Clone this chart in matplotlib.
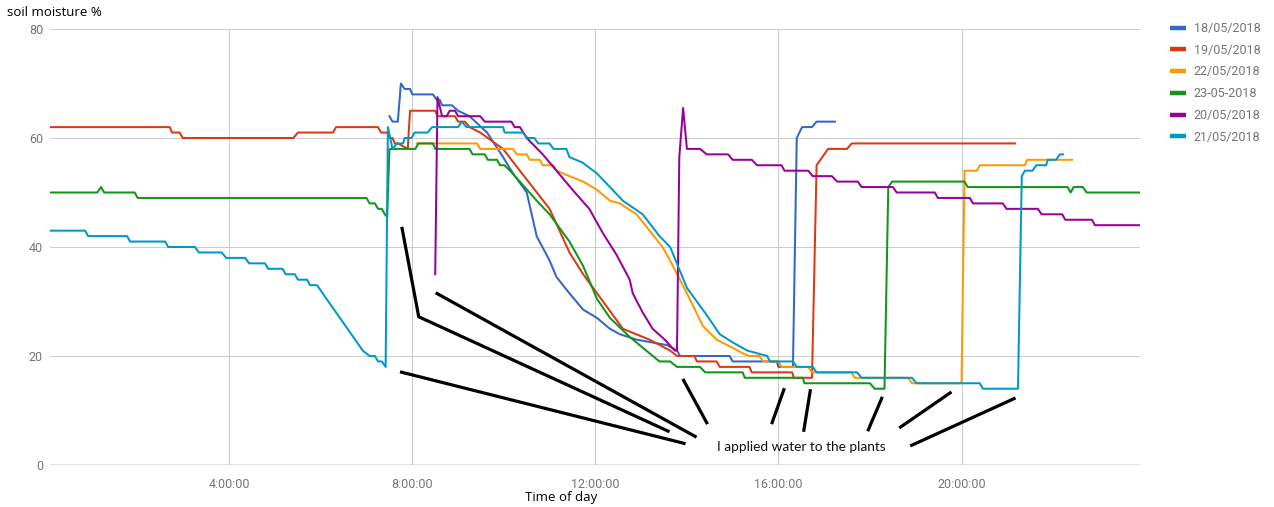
import matplotlib
matplotlib.use("Agg")
import matplotlib.pyplot as plt
from matplotlib.lines import Line2D


def heures(liste):
    # "H:MM" -> heures décimales
    res = []
    for s in liste:
        h, m = s.split(":")
        res.append(int(h) + int(m) / 60)
    return res


# 18/05/2018
t_18 = ["7:30", "7:34", "7:41", "7:45", "7:50", "7:57", "8:00", "8:27", "8:32", "8:36",
        "8:39", "8:52", "9:00", "9:15", "9:38", "9:59", "10:12", "10:30", "10:43", "11:00",
        "11:09", "11:26", "11:44", "12:02", "12:19", "12:32", "12:54", "13:34", "13:47", "13:51",
        "14:56", "15:00", "15:58", "16:00", "16:19", "16:24", "16:31", "16:44", "16:50", "17:14"]
v_18 = [64, 63, 63, 70, 69, 69, 68, 68, 67, 67,
        66, 66, 65, 64, 61, 56.5, 53.5, 50, 42, 37.5,
        34.5, 31.5, 28.5, 27, 25, 24, 23, 22, 21, 20,
        20, 19, 19, 18, 18, 60, 62, 62, 63, 63]

# 19/05/2018
t_19 = ["0:05", "2:42", "2:45", "2:55", "2:59", "5:24", "5:30", "6:16", "6:20", "7:15",
        "7:19", "7:27", "7:30", "7:34", "7:37", "7:41", "7:54", "7:57", "8:30", "8:33",
        "8:56", "9:00", "9:09", "9:15", "9:29", "9:59", "10:21", "11:00", "11:26", "11:44",
        "12:10", "12:36", "13:11", "13:38", "13:47", "14:10", "14:13", "14:39", "14:43", "15:22",
        "15:25", "16:18", "16:20", "16:44", "16:50", "17:05", "17:30", "17:36", "21:10"]
v_19 = [62, 62, 61, 61, 60, 60, 61, 61, 62, 62,
        61, 61, 60, 60, 59, 59, 58, 65, 65, 64,
        64, 63, 63, 62, 61, 58, 54, 47, 39, 35,
        30, 25, 23, 21, 20, 20, 19, 19, 18, 18,
        17, 17, 16, 16, 55, 58, 58, 59, 59]

# 22/05/2018
t_22 = ["8:06", "9:25", "9:29", "10:12", "10:17", "10:30", "10:34", "10:47", "10:51", "11:05",
        "11:09", "11:26", "11:44", "12:02", "12:19", "12:32", "12:54", "13:11", "13:28", "13:38",
        "14:00", "14:21", "14:39", "15:00", "15:13", "15:22", "15:35", "15:40", "16:00", "16:04",
        "16:39", "16:44", "17:36", "17:40", "18:50", "18:55", "20:00", "20:04", "20:20", "20:24",
        "21:23", "21:26", "22:25"]
v_22 = [59, 59, 58, 58, 57, 57, 56, 56, 55, 55,
        54, 53, 52, 50.5, 48.5, 48, 46, 43, 40, 37.5,
        31.5, 25.5, 23, 21.5, 20.5, 20, 20, 19, 19, 18,
        18, 17, 17, 16, 16, 15, 15, 54, 54, 55,
        55, 56, 56]

# 23-05-2018
t_23 = ["0:05", "1:07", "1:12", "1:16", "1:56", "2:00", "7:00", "7:04", "7:11", "7:15",
        "7:20", "7:24", "7:27", "7:30", "8:04", "8:08", "8:27", "8:30", "9:15", "9:19",
        "9:35", "9:39", "9:51", "9:55", "10:01", "10:08", "10:21", "10:43", "11:00", "11:26",
        "11:44", "12:02", "12:19", "12:45", "13:11", "13:24", "13:38", "13:47", "14:17", "14:24",
        "15:13", "15:16", "16:32", "16:34", "18:00", "18:06", "18:19", "18:24", "18:29", "20:04",
        "20:08", "22:19", "22:23", "22:27", "22:39", "22:44", "23:54"]
v_23 = [50, 50, 51, 50, 50, 49, 49, 48, 48, 47,
        47, 46, 45.5, 58, 58, 59, 59, 58, 58, 57,
        57, 56, 56, 55, 55, 54, 52, 48.5, 46, 41,
        36.5, 30.5, 27, 23.5, 20.5, 19, 19, 18, 18, 17,
        17, 16, 16, 15, 15, 14, 14, 51, 52, 52,
        51, 51, 50, 51, 51, 50, 50]

# 20/05/2018
t_20 = ["8:30", "8:33", "8:39", "8:45", "8:49", "8:56", "9:00", "9:29", "9:35", "10:10",
        "10:14", "10:21", "10:30", "10:51", "11:09", "11:30", "11:52", "12:10", "12:28", "12:45",
        "12:49", "13:02", "13:15", "13:31", "13:44", "13:47", "13:50", "13:55", "14:00", "14:17",
        "14:26", "14:54", "15:00", "15:25", "15:32", "16:04", "16:08", "16:39", "16:45", "17:10",
        "17:17", "17:44", "17:49", "18:30", "18:35", "19:25", "19:29", "20:11", "20:15", "20:54",
        "20:59", "21:40", "21:45", "22:12", "22:16", "22:51", "22:55", "23:54"]
v_20 = [35, 67.5, 64, 64, 65, 65, 64, 64, 63, 63,
        62, 62, 60, 57, 54, 50.5, 47, 42.5, 38.5, 34,
        31.5, 28, 25, 23, 21, 21, 56.5, 65.5, 58, 58,
        57, 57, 56, 56, 55, 55, 54, 54, 53, 53,
        52, 52, 51, 51, 50, 50, 49, 49, 48, 48,
        47, 47, 46, 46, 45, 45, 44, 44]

# 21/05/2018
t_21 = ["0:05", "0:51", "0:55", "1:46", "1:50", "2:36", "2:40", "3:15", "3:20", "3:50",
        "3:56", "4:21", "4:26", "4:47", "4:51", "5:10", "5:14", "5:26", "5:30", "5:42",
        "5:46", "5:55", "6:55", "7:04", "7:11", "7:15", "7:20", "7:25", "7:28", "7:34",
        "7:40", "7:48", "7:50", "7:59", "8:03", "8:20", "8:26", "9:00", "9:05", "9:11",
        "9:59", "10:01", "10:25", "10:31", "10:40", "10:45", "11:00", "11:05", "11:22", "11:26",
        "11:43", "12:02", "12:19", "12:36", "13:02", "13:24", "13:38", "14:00", "14:26", "14:43",
        "15:00", "15:19", "15:45", "15:49", "16:19", "16:24", "16:45", "16:50", "17:43", "17:49",
        "18:55", "19:01", "20:24", "20:28", "21:14", "21:19", "21:23", "21:33", "21:38", "21:51",
        "21:53", "22:04", "22:09", "22:13"]
v_21 = [43, 43, 42, 42, 41, 41, 40, 40, 39, 39,
        38, 38, 37, 37, 36, 36, 35, 35, 34, 34,
        33, 33, 21, 20, 20, 19, 19, 18, 62, 58,
        59, 59, 60, 60, 61, 61, 62, 62, 63, 62,
        62, 61, 61, 60, 60, 59, 59, 58, 58, 56.5,
        55.5, 53.5, 51, 48.5, 46, 42, 40, 32.5, 27.5, 24,
        22.5, 21, 20, 19, 19, 18, 18, 17, 17, 16,
        16, 15, 15, 14, 14, 53, 54, 54, 55, 55,
        56, 56, 57, 57]

series = [
    ("18/05/2018", t_18, v_18, "#3366cc"),
    ("19/05/2018", t_19, v_19, "#dc3912"),
    ("22/05/2018", t_22, v_22, "#ff9900"),
    ("23-05-2018", t_23, v_23, "#109618"),
    ("20/05/2018", t_20, v_20, "#990099"),
    ("21/05/2018", t_21, v_21, "#0099c6"),
]

x_ticks = [4, 8, 12, 16, 20]
x_labels = ["4:00:00", "8:00:00", "12:00:00", "16:00:00", "20:00:00"]
y_ticks = [0, 20, 40, 60, 80]

# traits noirs dessinés à la main (heures, %)
traits = [
    ([7.77, 8.14, 13.62], [43.7, 27.2, 6.1]),
    ([8.51, 14.21], [31.6, 5.1]),
    ([7.73, 13.97], [17.1, 3.9]),
    ([13.91, 14.45], [15.8, 7.5]),
    ([16.13, 15.85], [14.1, 7.5]),
    ([16.70, 16.55], [13.9, 6.1]),
    ([18.27, 17.95], [12.5, 6.2]),
    ([19.78, 18.64], [13.4, 6.8]),
    ([21.18, 18.88], [12.3, 3.5]),
]
note = "I applied water to the plants"

W, H = 1274, 507
fig = plt.figure(figsize=(W / 100, H / 100), dpi=100)
ax = fig.add_axes([50 / W, 42 / H, 1090 / W, 436 / H])

gris = "#757575"
tmin, tmax = 99, 0
for nom, t, v, c in series:
    x = heures(t)
    tmin, tmax = min(tmin, min(x)), max(tmax, max(x))
    ax.plot(x, v, color=c, lw=1.45, label=nom, solid_joinstyle="round", zorder=3)

for xs, ys in traits:
    ax.plot(xs, ys, color="black", lw=2.3, solid_capstyle="butt", zorder=4, clip_on=False)
ax.text(16.5, 3.3, note, ha="center", va="center", fontsize=9.8,
        family="Lato", color="#111111", zorder=5)

ax.set_xlim(tmin, tmax)
ax.set_ylim(0, 80)
ax.set_xticks(x_ticks)
ax.set_xticklabels(x_labels)
ax.set_yticks(y_ticks)
ax.tick_params(length=0, labelsize=9, labelcolor=gris)
ax.tick_params(axis="x", pad=9)
ax.tick_params(axis="y", pad=5)
for lab in ax.get_xticklabels() + ax.get_yticklabels():
    lab.set_family("Roboto")
ax.grid(True, color="#cccccc", lw=0.75, zorder=0)
for s in ax.spines.values():
    s.set_visible(False)
ax.axhline(0, color="#333333", lw=0.9, zorder=2)

fig.text(7 / W, 1 - 12 / H, "soil moisture %", ha="left", va="center",
         fontsize=9.5, family="Open Sans", color="black")
fig.text(561 / W, 1 - 497 / H, "Time of day", ha="center", va="center",
         fontsize=9.5, family="Open Sans", color="black")

poignees = [Line2D([], [], color=c, lw=3.2, solid_capstyle="butt") for _, _, _, c in series]
leg = fig.legend(poignees, [s[0] for s in series], loc="upper left",
                 bbox_to_anchor=(1170 / W, 1 - 22 / H), frameon=False,
                 prop={"family": "Roboto", "size": 9}, labelcolor=gris,
                 handlelength=1.3, handletextpad=0.6, labelspacing=0.7,
                 borderaxespad=0, borderpad=0)

fig.savefig("out.png", dpi=100)
